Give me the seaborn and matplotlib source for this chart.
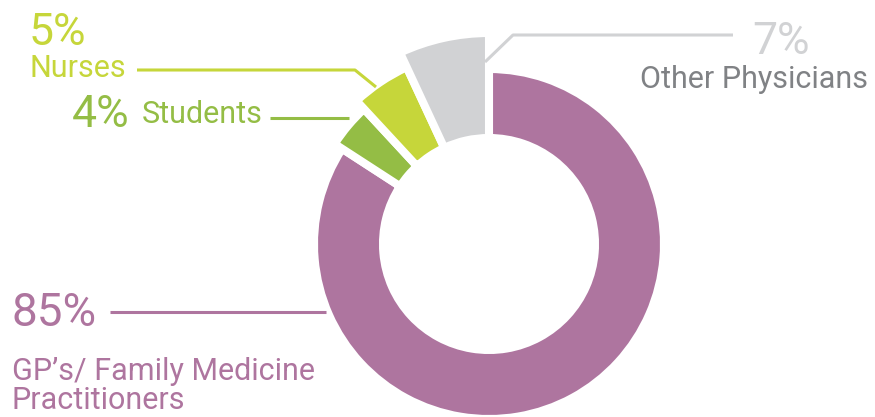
import matplotlib
matplotlib.use("Agg")
import seaborn as sns
from matplotlib import pyplot as plt

# data
groups = ["GP's/ Family Medicine\nPractitioners", "Students", "Nurses", "Other Physicians"]
shares = [85, 4, 5, 7]
pct_labels = ["85%", "4%", "5%", "7%"]

colors = ["#AE759F", "#94BD45", "#C6D63A", "#D1D2D4"]
outer_r = [175, 184, 195, 211]
inner_r = 106

sns.set_style("white")
plt.rcParams["font.family"] = ["Roboto", "DejaVu Sans"]

W, H = 875, 417
fig = plt.figure(figsize=(W / 100, H / 100), dpi=100)
ax = fig.add_axes([0, 0, 1, 1])
cx, cy = 489, H - 244

wedges, _ = ax.pie(shares, colors=colors, startangle=90, counterclock=False,
                   center=(cx, cy), radius=outer_r[0],
                   wedgeprops=dict(width=outer_r[0] - inner_r, edgecolor="white", linewidth=5.8))
for w, r in zip(wedges, outer_r):
    w.set_radius(r)
    w.set_width(r - inner_r)

ax.set_xlim(0, W)
ax.set_ylim(0, H)
ax.set_aspect("equal")
ax.axis("off")


def y(v):
    return H - v


lw = 2.2
# GP's
ax.plot([110, 326], [y(312), y(312)], color=colors[0], lw=lw, solid_capstyle="butt")
ax.text(12, y(326), pct_labels[0], color=colors[0], fontsize=33, ha="left", va="baseline")
ax.text(12, y(380), "GP’s/ Family Medicine", color=colors[0], fontsize=22, ha="left", va="baseline")
ax.text(12, y(409), "Practitioners", color=colors[0], fontsize=22, ha="left", va="baseline")

# Students
ax.plot([270, 349], [y(118), y(118)], color=colors[1], lw=lw, solid_capstyle="butt")
ax.text(72, y(127), pct_labels[1], color=colors[1], fontsize=32, ha="left", va="baseline")
ax.text(142, y(123), groups[1], color=colors[1], fontsize=22, ha="left", va="baseline")

# Nurses
ax.plot([137, 355, 376], [y(70), y(70), y(87)], color=colors[2], lw=lw, solid_capstyle="butt")
ax.text(29, y(45), pct_labels[2], color=colors[2], fontsize=32, ha="left", va="baseline")
ax.text(29, y(77), groups[2], color=colors[2], fontsize=22, ha="left", va="baseline")

# Other physicians
ax.plot([733, 513, 485], [y(35), y(35), y(62)], color="#D1D2D4", lw=lw, solid_capstyle="butt")
ax.text(810, y(54), pct_labels[3], color="#D1D2D4", fontsize=32, ha="right", va="baseline")
ax.text(868, y(88), groups[3], color="#808285", fontsize=22, ha="right", va="baseline")

fig.savefig("out.png", dpi=100)
plt.close(fig)
